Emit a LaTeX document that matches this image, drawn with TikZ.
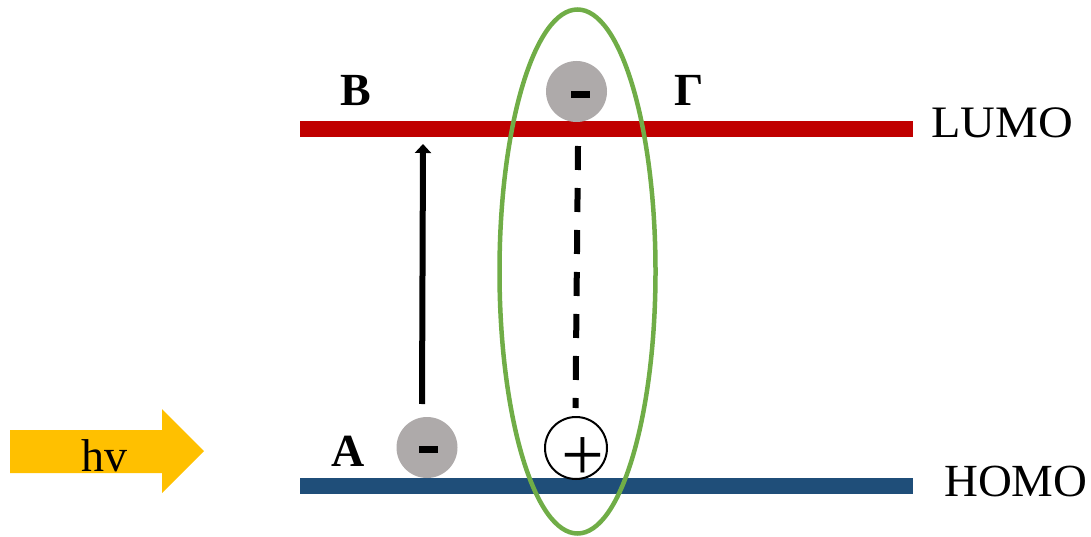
\documentclass[tikz,border=0pt]{standalone}
\usepackage{fontspec}
\usepackage{graphicx}
\setmainfont{Liberation Serif}
\usetikzlibrary{arrows.meta}
\definecolor{lumored}{HTML}{C00000}
\definecolor{homoblue}{HTML}{1F4E79}
\definecolor{excgreen}{HTML}{70AD47}
\definecolor{chargegray}{HTML}{AEAAAA}
\definecolor{lightyellow}{HTML}{FFC000}
\tikzset{
  levelbar/.style={rectangle, inner sep=0pt, minimum width=613pt, minimum height=16pt},
  charge/.style={circle, fill=chargegray, inner sep=0pt, minimum size=61pt},
  minusbar/.style={rectangle, fill=black, inner sep=0pt, minimum width=19pt, minimum height=7pt},
  hole/.style={circle, draw=black, line width=2pt, inner sep=0pt, minimum size=62pt},
  greek/.style={inner sep=0pt, anchor=base, font=\fontsize{46}{50}\selectfont\bfseries},
  leveltext/.style={inner sep=0pt, anchor=base west},
}
\begin{document}
\begin{tikzpicture}[x=1pt,y=-1pt]
\useasboundingbox (0,0) rectangle (1091,537);

% energy levels
\node[levelbar, fill=lumored] (lumo) at (606.5,129) {};
\node[levelbar, fill=homoblue] (homo) at (606.5,486) {};
\node[leveltext, font=\fontsize{45}{50}\selectfont] (lumolabel) at (931,138) {\scalebox{1.07}[1]{LUMO}};
\node[leveltext, font=\fontsize{46}{50}\selectfont] (homolabel) at (944,496) {\scalebox{1.02}[1]{HOMO}};

% exciton boundary
\draw[excgreen, line width=4.5pt] (577.5,271.5) ellipse [x radius=78pt, y radius=262pt];

% electron in LUMO
\node[charge] (elup) at (576.5,91.5) {};
\node[minusbar] (elupminus) at (580.5,94.3) {};

% electron in HOMO
\node[charge] (eldown) at (427,447.5) {};
\node[minusbar] (eldownminus) at (428.5,449.5) {};

% hole in HOMO
\node[hole] (holecirc) at (576,448) {};
\node[inner sep=0pt, font=\fontsize{76}{80}\selectfont] (plus) at (583,459) {+};

% excitation arrow
\coordinate (exfrom) at (422,404);
\coordinate (exto) at (423,144);
\draw[line width=6pt, -{Triangle[width=16pt,length=9pt]}] (exfrom) -- (exto);

% electron-hole binding
\coordinate (bindtop) at (578,146);
\coordinate (bindbot) at (575.5,408);
\draw[line width=6pt, dash pattern=on 24pt off 18pt] (bindtop) -- (bindbot);

% state labels
\node[greek] (labA) at (348,466) {Α};
\node[greek] (labB) at (356,106) {Β};
\node[greek] (labG) at (689,105.7) {Γ};

% incoming light
\fill[lightyellow] (10,430) -- (162,430) -- (162,409) -- (204,451) -- (162,493) -- (162,473) -- (10,473) -- cycle;
\node[inner sep=0pt, anchor=base, font=\fontsize{46}{50}\selectfont] (hv) at (104.7,471.5) {hv};
\end{tikzpicture}
\end{document}
